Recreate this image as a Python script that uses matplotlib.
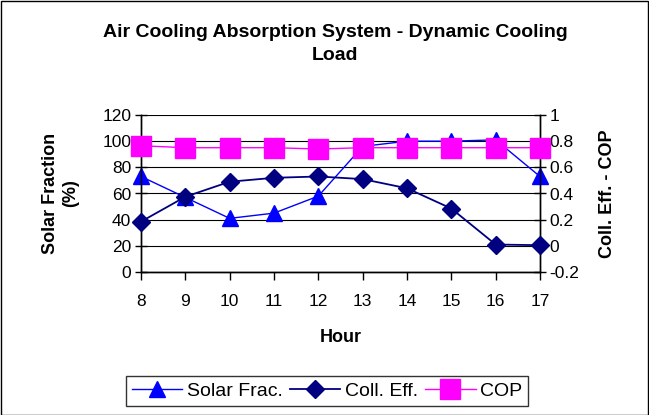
import matplotlib
matplotlib.use("Agg")
import matplotlib.pyplot as plt
from matplotlib.patches import Rectangle

plt.rcParams['font.family'] = ['Liberation Sans', 'DejaVu Sans']

hours = [8, 9, 10, 11, 12, 13, 14, 15, 16, 17]
solar_frac = [73, 57, 41, 45, 58, 96, 100, 100, 101, 73]
coll_eff = [0.185, 0.375, 0.49, 0.52, 0.53, 0.51, 0.44, 0.285, 0.01, 0.005]
cop = [0.765, 0.75, 0.75, 0.75, 0.74, 0.75, 0.75, 0.75, 0.75, 0.75]

W, H = 649, 415
fig = plt.figure(figsize=(W / 100, H / 100), dpi=100)

# border round the whole chart
fig.patches.append(Rectangle((0.5 / W, 0.5 / H), 1 - 1.5 / W, 1 - 1.5 / H,
                             transform=fig.transFigure, fill=False,
                             edgecolor='black', linewidth=1))

ax = fig.add_axes([141 / W, 1 - 272 / H, 399 / W, 157 / H])
ax2 = ax.twinx()

ax.set_xlim(hours[0], hours[-1])
ax.set_ylim(0, 120)
ax.set_yticks(range(0, 121, 20))
ax.set_xticks(hours)
ax.grid(axis='y', color='black', linewidth=0.8)
ax.set_axisbelow(True)

ax2.set_ylim(-0.2, 1.0)
ax2.set_yticks([-0.2, 0, 0.2, 0.4, 0.6, 0.8, 1])
ax2.set_yticklabels(['-0.2', '0', '0.2', '0.4', '0.6', '0.8', '1'])

for a in (ax, ax2):
    a.spines['top'].set_visible(False)
    for s in a.spines.values():
        s.set_linewidth(1)
    a.tick_params(labelsize=12.5, width=1, color='black')
ax.tick_params(axis='y', direction='inout', length=8, pad=3)
ax2.tick_params(axis='y', direction='inout', length=8, pad=3)
ax.tick_params(axis='x', direction='out', length=6, pad=10)

l1, = ax.plot(hours, solar_frac, color='#0000FF', lw=1, marker='^',
              markersize=12, clip_on=False, zorder=3)
l2, = ax2.plot(hours, coll_eff, color='#000080', lw=1.3, marker='D',
               markersize=9, clip_on=False, zorder=3)
l3, = ax2.plot(hours, cop, color='#FF00FF', lw=1, marker='s',
               markersize=14, clip_on=False, zorder=4)

ax.set_xlabel('Hour', fontsize=13, fontweight='bold', labelpad=14)
ax.set_ylabel('Solar Fraction\n(%)', fontsize=13, fontweight='bold', labelpad=17)
ax2.set_ylabel('Coll. Eff. - COP', fontsize=13, fontweight='bold', labelpad=14)

fig.text(335 / W, 1 - 44 / H, 'Air Cooling Absorption System - Dynamic Cooling\nLoad',
         ha='center', va='center', fontsize=14, fontweight='bold', linespacing=1.5)

leg = fig.legend([l1, l2, l3], ['Solar Frac.', 'Coll. Eff.', 'COP'],
                 loc='center', bbox_to_anchor=(327 / W, 1 - 391 / H), ncol=3,
                 fontsize=14, frameon=True, fancybox=False, edgecolor='black',
                 handlelength=2.6, columnspacing=0.35, handletextpad=0.25,
                 borderpad=0.3)
leg.get_frame().set_linewidth(1)

fig.savefig('out.png', dpi=100)
